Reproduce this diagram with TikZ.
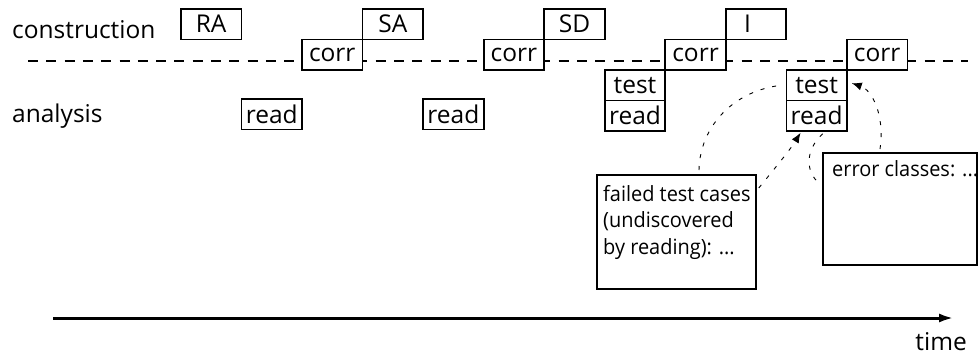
\documentclass[tikz,border=0pt]{standalone}
\usepackage{fontspec}
\setmainfont{Open Sans}
\newfontfamily\notefam[FakeStretch=0.95]{Open Sans}
\usetikzlibrary{arrows.meta,calc}
\begin{document}
\begin{tikzpicture}[x=1pt,y=-1pt,
  every node/.style={font=\fontsize{24.5}{27}\selectfont},
  notefont/.style={font=\notefam\fontsize{21}{26.7}\selectfont},
  blk/.style={draw, line width=1.8pt, fill=white, minimum width=60.5pt, minimum height=30.5pt, inner sep=0pt, anchor=north west},
  note/.style={draw, line width=1.8pt, fill=white, anchor=north west, inner sep=0pt},
  lbl/.style={anchor=base west, inner sep=0pt},
  hint/.style={line width=0.9pt, dash pattern=on 4pt off 8pt},
  hinttip/.style={-{Latex[length=10pt,width=8pt]}},
]
\useasboundingbox (0,0) rectangle (978,354);

% row labels
\node[lbl] (constr) at (12,38) {construction};
\node[lbl] (anal) at (12,122) {analysis};

% dashed separator
\coordinate (dl) at (28,61);
\coordinate (dr) at (968,61);
\draw[line width=1.8pt, dash pattern=on 10pt off 8.3pt] (dl) -- (dr);

% construction boxes
\node[blk] (RA) at (180,8) {RA};
\node[blk] (SA) at (361.65,8) {SA};
\node[blk] (SD) at (543.3,8) {SD};
\node[blk, text width=24pt, align=left] (I) at (724.95,8) {I};

\node[blk] (corr1) at (301.1,38.5) {corr};
\node[blk] (corr2) at (482.75,38.5) {corr};
\node[blk] (corr3) at (664.4,38.5) {corr};
\node[blk] (corr4) at (846.05,38.5) {corr};

% analysis boxes
\node[blk] (read1) at (240.55,98) {read};
\node[blk] (read2) at (422.2,98) {read};
\node[blk] (test3) at (603.85,69) {test};
\node[blk] (read3) at (603.85,99.5) {read};
\node[blk] (test4) at (785.5,69) {test};
\node[blk] (read4) at (785.5,99.5) {read};

% notes
\node[note, minimum width=159pt, minimum height=114pt] (fail) at (596,174) {};
\node[notefont, anchor=north west, inner sep=0pt, align=left] (failtxt) at (603,185)
  {failed test cases\\(undiscovered\\by reading): ...};
\node[note, minimum width=154pt, minimum height=112pt] (errc) at (822,152) {};
\node[notefont, anchor=base west, inner sep=0pt] (errtxt) at (832,176)
  {error classes: ...};

% hint curves
\draw[hint] ($(fail.north west)+(103,-4)$) .. controls (700,125) and (735,90) .. ($(test4.west)+(-3,0)$);
\draw[hint, hinttip] ($(fail.north east)+(2,14)$) .. controls (775,168) and (790,150) .. ($(read4.south west)+(15,1)$);
\draw[hint] ($(read4.south)+(6,2)$) .. controls (805,150) and (805,172) .. ($(errc.north west)+(-2,32)$);
\draw[hint, hinttip] ($(errc.north west)+(58,-3)$) .. controls (885,115) and (872,90) .. ($(test4.east)+(4,-2)$);

% time axis
\coordinate (t0) at (53,318);
\coordinate (t1) at (954,318);
\draw[line width=3pt, -{Latex[length=15pt,width=9pt]}] (t0) -- (t1);
\node[anchor=base east, inner sep=0pt] (time) at (967,350) {time};
\end{tikzpicture}
\end{document}
